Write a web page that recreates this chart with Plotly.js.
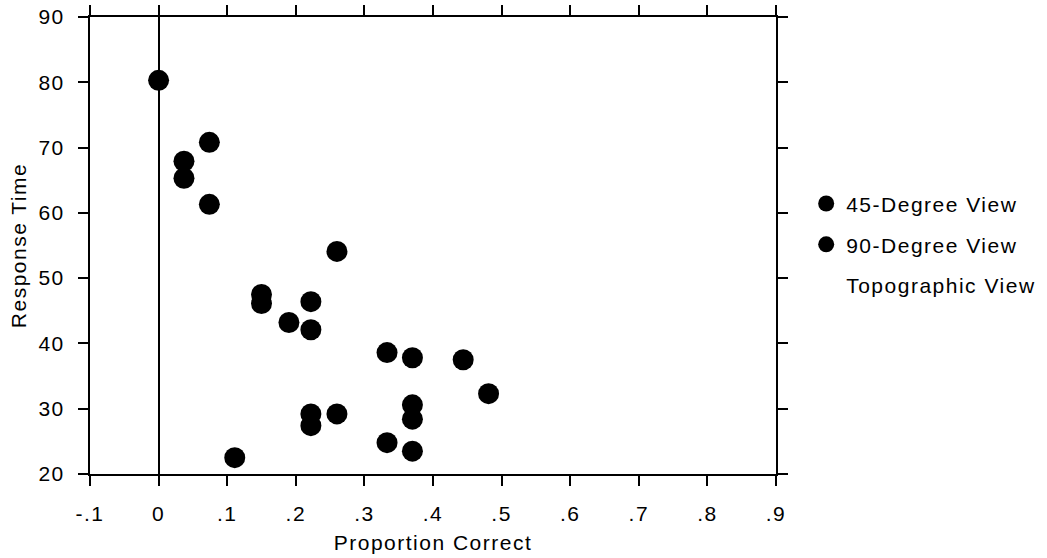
<!DOCTYPE html>
<html>
<head>
<meta charset="utf-8">
<script src="https://cdn.plot.ly/plotly-3.0.1.min.js"></script>
<style>
html,body{margin:0;padding:0;background:#fff;}
#chart{width:1047px;height:558px;}
svg text{letter-spacing:1.5px;}
</style>
</head>
<body>
<div id="chart"></div>
<script>
// Series names
const seriesNames = ["45-Degree View", "90-Degree View", "Topographic View"];

// 45-Degree View (proportion correct, response time)
const x45 = [0, 0.037, 0.074, 0.15, 0.222, 0.19, 0.333, 0.444, 0.37, 0.222, 0.333, 0.111];
const y45 = [80.3, 67.9, 70.8, 47.5, 46.4, 43.2, 38.6, 37.5, 30.6, 29.2, 24.8, 22.5];

// 90-Degree View
const x90 = [0.037, 0.074, 0.26, 0.15, 0.222, 0.37, 0.481, 0.37, 0.222, 0.26, 0.37];
const y90 = [65.3, 61.3, 54.1, 46.1, 42.1, 37.8, 32.3, 28.4, 27.4, 29.2, 23.5];

// Topographic View (no visible points in the picture)
const xTopo = [null];
const yTopo = [null];

// Axis ticks
const xTickVals = [-0.1, 0, 0.1, 0.2, 0.3, 0.4, 0.5, 0.6, 0.7, 0.8, 0.9];
const xTickText = ["-.1", "0", ".1", ".2", ".3", ".4", ".5", ".6", ".7", ".8", ".9"];
const yTickVals = [20, 30, 40, 50, 60, 70, 80, 90];

const FONT = "Liberation Sans, Arial, Helvetica, sans-serif";
const FS = 21;

const traces = [
  {x: x45, y: y45, name: seriesNames[0], type: "scatter", mode: "markers",
   marker: {color: "#000", size: 21}, legendgroup: "a"},
  {x: x90, y: y90, name: seriesNames[1], type: "scatter", mode: "markers",
   marker: {color: "#000", size: 21}, legendgroup: "b"},
  {x: xTopo, y: yTopo, name: seriesNames[2], type: "scatter", mode: "markers",
   marker: {color: "rgba(255,255,255,0)", size: 21}, legendgroup: "c", showlegend: true}
];

const layout = {
  width: 1047, height: 558,
  margin: {l: 90, r: 271, t: 17, b: 84, autoexpand: false},
  paper_bgcolor: "#fff", plot_bgcolor: "#fff",
  font: {family: FONT, size: FS, color: "#000"},
  showlegend: true,
  xaxis: {
    range: [-0.1, 0.9], tickvals: xTickVals, ticktext: xTickText,
    showgrid: false, zeroline: true, zerolinecolor: "#000", zerolinewidth: 2,
    showline: true, linecolor: "#000", linewidth: 2, mirror: "ticks",
    ticks: "outside", ticklen: 10, tickwidth: 2, tickcolor: "#000",
    ticklabelstandoff: 10,
    tickfont: {family: FONT, size: FS},
    title: {text: "Proportion Correct", font: {family: FONT, size: FS}, standoff: 11}
  },
  yaxis: {
    range: [20, 90], tickvals: yTickVals,
    showgrid: false, zeroline: false,
    showline: true, linecolor: "#000", linewidth: 2, mirror: "ticks",
    ticks: "outside", ticklen: 10, tickwidth: 2, tickcolor: "#000",
    ticklabelstandoff: 9,
    tickfont: {family: FONT, size: FS},
    title: {text: "Response Time", font: {family: FONT, size: FS}, standoff: 6}
  },
  legend: {
    x: 1.044, xanchor: "left", y: 0.636, yanchor: "top",
    font: {family: FONT, size: FS, color: "#000"},
    traceorder: "grouped", tracegroupgap: 10.5,
    bgcolor: "rgba(0,0,0,0)", borderwidth: 0
  }
};

Plotly.newPlot("chart", traces, layout, {staticPlot: true, displayModeBar: false});
</script>
</body>
</html>
